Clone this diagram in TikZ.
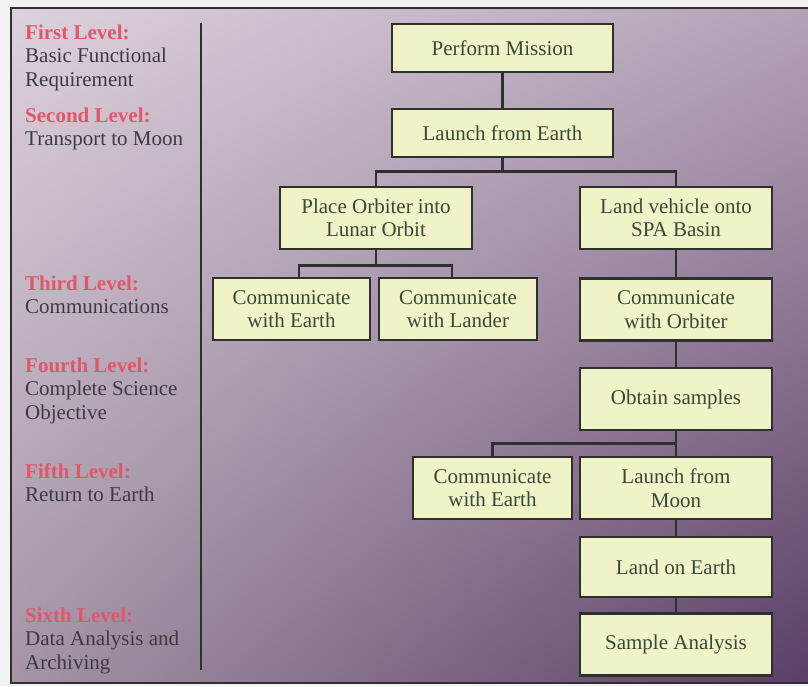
\documentclass[tikz,border=0pt]{standalone}
\usepackage{fontspec}
\setmainfont{Liberation Serif}
\usetikzlibrary{calc,shadings}

\definecolor{pagebg}{HTML}{F4F3F4}
\definecolor{boxfill}{HTML}{F0F2C8}
\definecolor{boxline}{HTML}{2E302C}
\definecolor{boxtext}{HTML}{3A4838}
\definecolor{levelred}{HTML}{E2566A}
\definecolor{leveltext}{HTML}{3C3A40}
\definecolor{bgtl}{HTML}{DCD2DC}
\definecolor{bgtr}{HTML}{B4A2B8}
\definecolor{bgbl}{HTML}{A494A6}
\definecolor{bgbr}{HTML}{5A3E66}

\newcommand{\levelblock}[2]{\parbox[t]{175pt}{\raggedright\textcolor{levelred}{\bfseries #1}\\#2}}

\begin{document}
\begin{tikzpicture}[x=1pt,y=-1pt,
  txt/.style={font=\fontsize{21}{23.5}\selectfont},
  stepbox/.style={txt, draw=boxline, line width=2.5pt, fill=boxfill, text=boxtext,
    align=center, inner sep=0pt, minimum width=192pt, minimum height=62pt},
  link/.style={draw=boxline, line width=2.5pt},
  lvl/.style={txt, anchor=base west, inner sep=0pt, text=leveltext}]

% page and shaded panel
\useasboundingbox (0,0) rectangle (808,686);
\fill[pagebg] (0,0) rectangle (808,686);
\shade[upper left=bgtl, upper right=bgtr, lower left=bgbl, lower right=bgbr]
  (11,8) rectangle (812,683);
\draw[boxline, line width=2.5pt] (11,8) rectangle (812,683);

% divider between level column and tree
\coordinate (dtop) at (201,23);
\coordinate (dbot) at (201,670);
\draw[link] (dtop) -- (dbot);

% level descriptions
\node[lvl] (l1) at (25,39)  {\levelblock{First Level:}{Basic Functional\\Requirement}};
\node[lvl] (l2) at (25,122) {\levelblock{Second Level:}{Transport to Moon}};
\node[lvl] (l3) at (25,290) {\levelblock{Third Level:}{Communications}};
\node[lvl] (l4) at (25,372) {\levelblock{Fourth Level:}{Complete Science\\Objective}};
\node[lvl] (l5) at (25,478) {\levelblock{Fifth Level:}{Return to Earth}};
\node[lvl] (l6) at (25,622) {\levelblock{Sixth Level:}{Data Analysis and\\Archiving}};

% function boxes
\node[stepbox, minimum width=221pt, minimum height=48pt] (pm)  at (502.5,48)  {Perform Mission};
\node[stepbox, minimum width=221pt, minimum height=48pt] (lfe) at (502.5,133) {Launch from Earth};
\node[stepbox] (poo) at (376,218) {Place Orbiter into\\Lunar Orbit};
\node[stepbox] (lvs) at (676,218) {Land vehicle onto\\SPA Basin};
\node[stepbox, minimum width=157pt] (cwe1) at (291.5,309) {Communicate\\with Earth};
\node[stepbox, minimum width=158pt] (cwl)  at (458,309)   {Communicate\\with Lander};
\node[stepbox] (cwo) at (676,309.5) {Communicate\\with Orbiter};
\node[stepbox] (obt) at (676,399)   {Obtain samples};
\node[stepbox, minimum width=159pt] (cwe2) at (492.5,488) {Communicate\\with Earth};
\node[stepbox] (lfm) at (676,488)   {Launch from\\Moon};
\node[stepbox, minimum height=60pt] (loe) at (676,567) {Land on Earth};
\node[stepbox] (sa)  at (676,644.5) {Sample Analysis};

% connectors
\draw[link] (pm) -- (lfe);
\draw[link] (lfe.south) -- ++(0,13) coordinate (j1) -| (poo.north);
\draw[link] (j1) -| (lvs.north);
\draw[link] (poo.south) -- ++(0,15) coordinate (j2) -| ([xshift=7.5pt]cwe1.north);
\draw[link] (j2) -| ([xshift=-6pt]cwl.north);
\draw[link] (lvs) -- (cwo);
\draw[link] (cwo) -- (obt);
\draw[link] (obt.south) -- ++(0,12) coordinate (j3) -| (cwe2.north);
\draw[link] (j3) -- (lfm.north);
\draw[link] (lfm) -- (loe);
\draw[link] (loe) -- (sa);
\end{tikzpicture}
\end{document}
